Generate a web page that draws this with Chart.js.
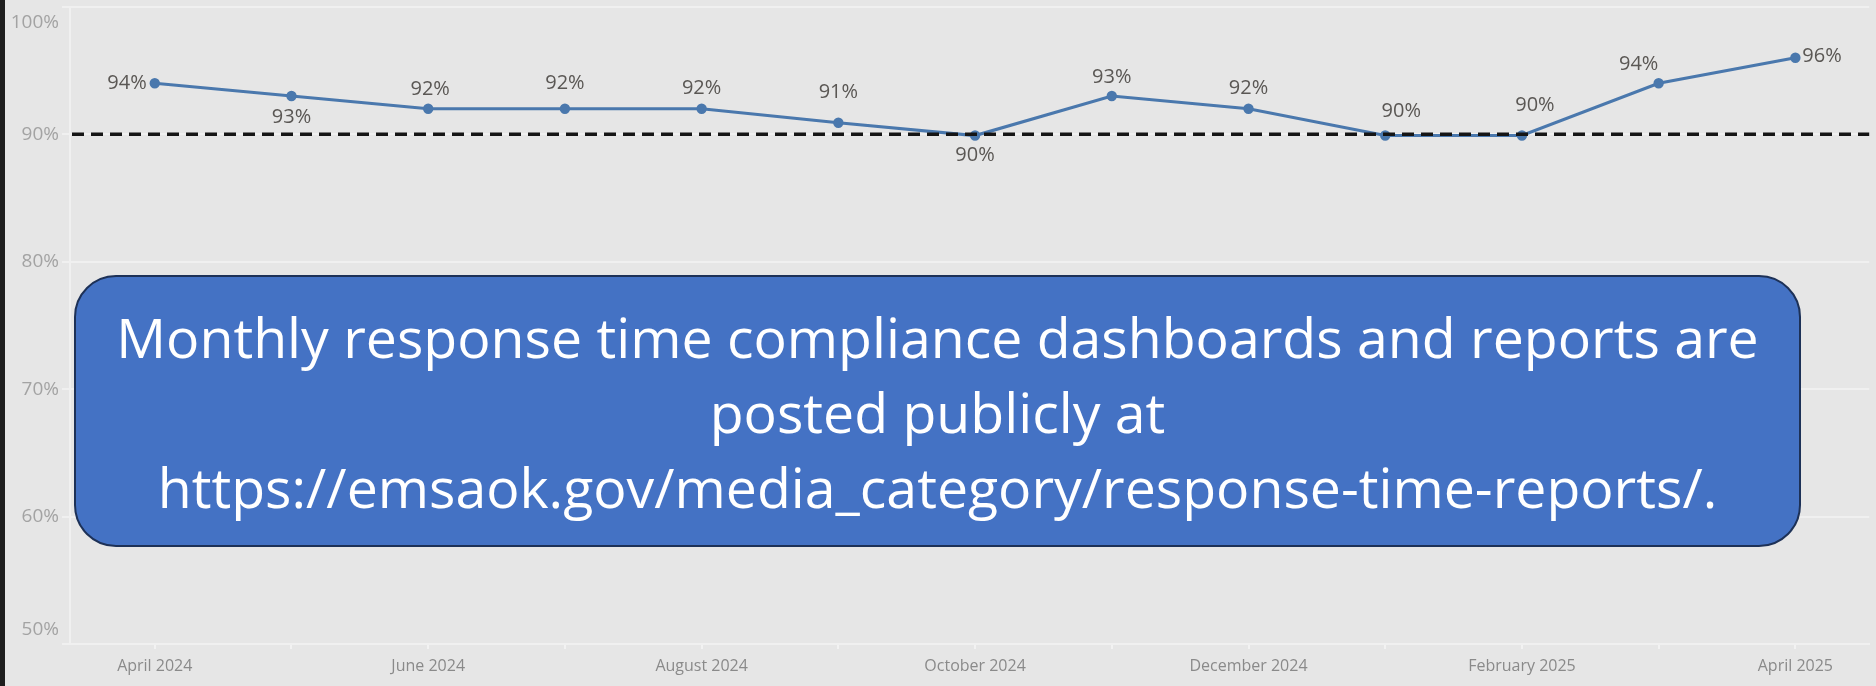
<!DOCTYPE html>
<html lang="en">
  <head>
    <title>Response time compliance</title>
    <meta charset="utf-8">
    <script src="https://cdn.jsdelivr.net/npm/chart.js@4.4.1/dist/chart.umd.min.js"></script>
    <style>
      body { margin: 0; background: #1e1e1e; width: 1876px; height: 686px; overflow: hidden; }
      #wrap { position: absolute; left: 5px; top: 0; width: 1871px; height: 686px; background: #e6e6e6; }
      #note {
        position: absolute; left: 69px; top: 275px; width: 1723px; height: 268px;
        background: #4472c4; border: 2px solid #1d3157; border-radius: 42px;
        color: #fff; font-family: "Open Sans", sans-serif; text-align: center;
        display: flex; flex-direction: column; justify-content: center;
      }
      #note div { line-height: 75px; white-space: nowrap; }
    </style>
  </head>
  <body>
    <div id="wrap">
      <canvas id="myChart1"></canvas>
      <div id="note">
        <div>Monthly response time compliance dashboards and reports are</div>
        <div>posted publicly at</div>
        <div>https://emsaok.gov/media_category/response-time-reports/.</div>
      </div>
    </div>
  <script>
    // values
    var months = ['April 2024', 'May 2024', 'June 2024', 'July 2024', 'August 2024', 'September 2024',
                  'October 2024', 'November 2024', 'December 2024', 'January 2025', 'February 2025',
                  'March 2025', 'April 2025'];
    var compliance = [94.0, 93.0, 92.0, 92.0, 92.0, 90.9, 89.9, 93.0, 92.0, 89.9, 89.9, 94.0, 96.0];
    var target = 90;

    // where each value label sits next to its point
    var labelSide = ['left', 'below', 'above', 'above', 'above', 'above', 'below',
                     'above', 'above', 'above', 'above', 'above', 'right'];
    var labelNudge = [[-8, 0], [0, 21], [2, -19], [0, -25], [0, -20], [0, -30], [0, 20],
                      [0, -19], [0, -20], [16, -24], [13, -30], [-20, -19], [7, -1]];

    var fontName = '"Open Sans", sans-serif';

    // fit the note text to the width of the box line
    (function () {
      var c = document.createElement('canvas').getContext('2d');
      c.font = '100px ' + fontName;
      var w = c.measureText('Monthly response time compliance dashboards and reports are').width;
      document.getElementById('note').style.fontSize = (1643 / w * 100).toFixed(1) + 'px';
    })();

    var targetLine = {
      id: 'targetLine',
      afterDatasetsDraw: function (chart) {
        var ctx = chart.ctx, area = chart.chartArea;
        var y = chart.scales.y.getPixelForValue(target);
        ctx.save();
        ctx.strokeStyle = '#151515';
        ctx.lineWidth = 3.5;
        ctx.setLineDash([12, 7]);
        ctx.beginPath();
        ctx.moveTo(area.left + 2, y);
        ctx.lineTo(area.right, y);
        ctx.stroke();
        ctx.restore();
      }
    };

    var valueLabels = {
      id: 'valueLabels',
      afterDatasetsDraw: function (chart) {
        var ctx = chart.ctx;
        var pts = chart.getDatasetMeta(0).data;
        ctx.save();
        ctx.font = '20px ' + fontName;
        ctx.fillStyle = '#5a5754';
        ctx.textBaseline = 'middle';
        pts.forEach(function (p, i) {
          var side = labelSide[i];
          ctx.textAlign = side == 'left' ? 'right' : (side == 'right' ? 'left' : 'center');
          ctx.fillText(Math.round(compliance[i]) + '%', p.x + labelNudge[i][0], p.y + labelNudge[i][1]);
        });
        ctx.restore();
      }
    };

    // y labels kept inside the plot at both ends, like the original
    var yLabels = {
      id: 'yLabels',
      afterDraw: function (chart) {
        var ctx = chart.ctx, s = chart.scales.y, area = chart.chartArea;
        ctx.save();
        ctx.font = '19px ' + fontName;
        ctx.fillStyle = '#a3a3a3';
        ctx.textAlign = 'right';
        ctx.textBaseline = 'middle';
        s.ticks.forEach(function (t) {
          var y = s.getPixelForValue(t.value);
          y = Math.min(Math.max(y, area.top + 16), area.bottom - 14);
          ctx.fillText(t.value + '%', area.left - 11, y);
        });
        ctx.restore();
      }
    };

    var ctx = document.getElementById('myChart1').getContext('2d');
    var myChart1 = new Chart(ctx, {
      type: 'line',
      data: {
        labels: months,
        datasets: [{
          label: 'Response time compliance',
          data: compliance.map(function (v, i) { return { x: i, y: v }; }),
          fill: false,
          borderColor: '#4a78ad',
          backgroundColor: '#4a78ad',
          borderWidth: 3.2,
          pointRadius: 3.6,
          pointHoverRadius: 3.6,
          tension: 0
        }]
      },
      options: {
        responsive: true,
        maintainAspectRatio: false,
        animation: false,
        events: [],
        layout: { padding: { top: 4, left: 0, right: 0, bottom: 0 } },
        plugins: { legend: { display: false }, tooltip: { enabled: false } },
        scales: {
          x: {
            type: 'linear',
            min: -0.62,
            max: 12.54,
            afterBuildTicks: function (axis) {
              axis.ticks = months.map(function (m, i) { return { value: i }; });
            },
            afterFit: function (axis) {
              axis.height = 42;
              axis.paddingLeft = 0;
              axis.paddingRight = 0;
            },
            grid: { drawOnChartArea: false, drawTicks: true, tickLength: 5, tickColor: '#f2f2f2', lineWidth: 2 },
            border: { display: true, color: '#f0f0f0', width: 2 },
            ticks: {
              autoSkip: false,
              maxRotation: 0,
              padding: 8,
              color: '#8a8a8a',
              font: { family: fontName, size: 16 },
              callback: function (v) { return v % 2 === 0 ? months[v] : ''; }
            }
          },
          y: {
            min: 50,
            max: 100,
            afterFit: function (axis) {
              axis.width = 65;
              axis.paddingTop = 0;
              axis.paddingBottom = 0;
            },
            grid: { color: '#f0f0f0', lineWidth: 2, tickLength: 8, tickColor: '#f0f0f0' },
            border: { display: true, color: '#f0f0f0', width: 2 },
            ticks: { stepSize: 10, display: false }
          }
        }
      },
      plugins: [targetLine, valueLabels, yLabels]
    });
  </script>
  </body>
</html>
